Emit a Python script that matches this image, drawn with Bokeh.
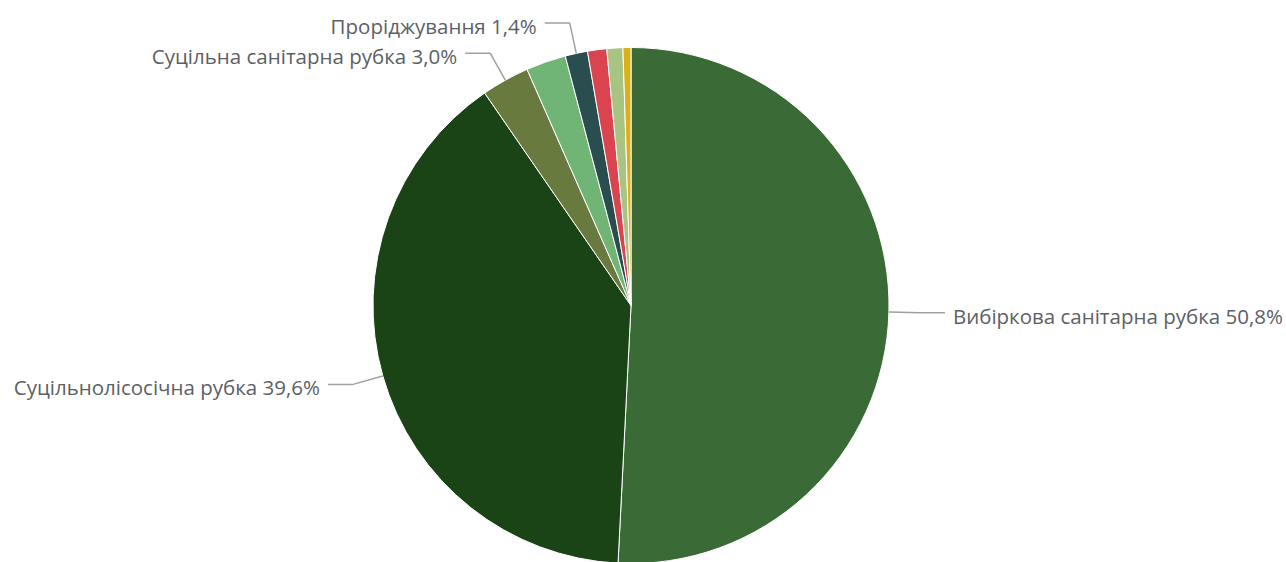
import numpy as np
from bokeh.plotting import figure
from bokeh.models import Range1d, ColumnDataSource
from bokeh.core.properties import value
from bokeh.embed import file_html
from bokeh.resources import INLINE

categories = ["Вибіркова санітарна рубка", "Суцільнолісосічна рубка",
              "Суцільна санітарна рубка", "Категорія 4", "Проріджування",
              "Категорія 6", "Категорія 7", "Категорія 8"]
shares = [50.8, 39.6, 3.0, 2.5, 1.4, 1.2, 1.0, 0.5]
show_label = [True, True, True, False, True, False, False, False]
colors = ["#3a6b37", "#1a4316", "#687a3d", "#70b575", "#2a4d4f",
          "#d9444f", "#a9c482", "#d9b21a"]

W, H = 1286, 562
p = figure(width=W, height=H, output_backend="svg", toolbar_location=None,
           x_range=Range1d(0, W), y_range=Range1d(0, H),
           min_border=0)
p.axis.visible = False
p.grid.visible = False
p.outline_line_color = None
p.background_fill_color = "white"

cx, cy, r = 630.5, 562 - 305, 258.0

vals = np.array(shares, dtype=float)
frac = vals / vals.sum()
cum = np.concatenate([[0], np.cumsum(frac)])
start = np.pi / 2 - 2 * np.pi * cum[:-1]
end = np.pi / 2 - 2 * np.pi * cum[1:]

src = ColumnDataSource(dict(start=start, end=end, color=colors))
p.wedge(x=cx, y=cy, radius=r, start_angle="start", end_angle="end",
        direction="clock", fill_color="color", line_color="white",
        line_width=1, source=src)

lx, ly, tx, ty, align, texts = [], [], [], [], [], []
for i, name in enumerate(categories):
    if not show_label[i]:
        continue
    mid = 2 * np.pi * (cum[i] + cum[i + 1]) / 2  # clockwise from top
    dx, dy = np.sin(mid), np.cos(mid)
    x0, y0 = cx + r * dx, cy + r * dy
    x1, y1 = cx + (r + 31) * dx, cy + (r + 31) * dy
    side = 1 if dx > 0 else -1
    x2 = x1 + side * 25
    lx.append([x0, x1, x2]); ly.append([y0, y1, y1])
    tx.append(x2 + side * 8); ty.append(y1 - 3)
    align.append("left" if side > 0 else "right")
    texts.append(f"{name} {shares[i]:.1f}%".replace(".", ","))

p.multi_line(xs=lx, ys=ly, line_color="#a0a0a0", line_width=1.5)
tsrc = ColumnDataSource(dict(x=tx, y=ty, t=texts, a=align))
p.text(x="x", y="y", text="t", text_align="a", text_baseline="middle",
       text_font=value("Open Sans"), text_font_size="20.5px",
       text_color="#5c5f66", source=tsrc)

open("out.html", "w").write(file_html(p, INLINE))
